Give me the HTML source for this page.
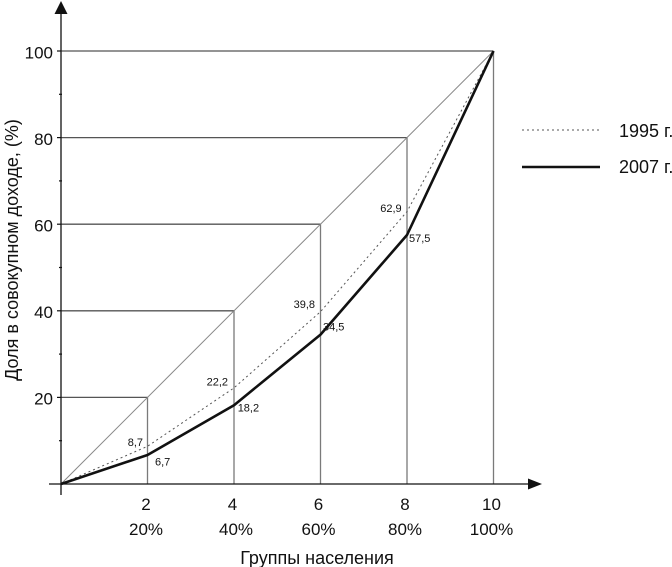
<!DOCTYPE html>
<html><head><meta charset="utf-8"><style>
html,body{margin:0;padding:0;background:#fff;}
svg{display:block;}
text{font-family:"Liberation Sans",Arial,sans-serif;fill:#111;}
</style></head><body>
<svg width="672" height="567" viewBox="0 0 672 567" xmlns="http://www.w3.org/2000/svg">
<g stroke="#555" stroke-width="1.3" fill="none">
<line x1="61" y1="51" x2="493.5" y2="51"/>
<line x1="61" y1="137.6" x2="407" y2="137.6"/>
<line x1="61" y1="224.2" x2="320.5" y2="224.2"/>
<line x1="61" y1="310.8" x2="234" y2="310.8"/>
<line x1="61" y1="397.4" x2="147.5" y2="397.4"/>
</g>
<g stroke="#7a7a7a" stroke-width="1.3" fill="none">
<line x1="147.5" y1="484" x2="147.5" y2="397.4"/>
<line x1="234" y1="484" x2="234" y2="310.8"/>
<line x1="320.5" y1="484" x2="320.5" y2="224.2"/>
<line x1="407" y1="484" x2="407" y2="137.6"/>
<line x1="493.5" y1="484" x2="493.5" y2="51"/>
</g>
<line x1="61" y1="484" x2="493.5" y2="51" stroke="#888" stroke-width="1"/>
<polyline points="61,484 147.5,446.3 234,387.9 320.5,311.7 407,211.6 493.5,51" fill="none" stroke="#555" stroke-width="1" stroke-dasharray="2,3"/>
<polyline points="61,484 147.5,455 234,405.2 320.5,334.6 407,235 493.5,51" fill="none" stroke="#111" stroke-width="2.6" stroke-linejoin="round"/>
<line x1="61" y1="12" x2="61" y2="495" stroke="#111" stroke-width="1.3"/>
<polygon points="61,1 54.5,14 67.5,14" fill="#111"/>
<line x1="49" y1="484" x2="530" y2="484" stroke="#111" stroke-width="1.3"/>
<polygon points="542,484 528,478.5 528,489.5" fill="#111"/>
<g stroke="#111" stroke-width="1.2">
<line x1="57" y1="51" x2="61" y2="51"/>
<line x1="57" y1="137.6" x2="61" y2="137.6"/>
<line x1="57" y1="224.2" x2="61" y2="224.2"/>
<line x1="57" y1="310.8" x2="61" y2="310.8"/>
<line x1="57" y1="397.4" x2="61" y2="397.4"/>
<line x1="59" y1="94.3" x2="62" y2="94.3"/>
<line x1="59" y1="180.9" x2="62" y2="180.9"/>
<line x1="59" y1="267.5" x2="62" y2="267.5"/>
<line x1="59" y1="354.1" x2="62" y2="354.1"/>
<line x1="59" y1="440.7" x2="62" y2="440.7"/>
</g>
<g font-size="17" text-anchor="end">
<text x="53" y="58.5">100</text>
<text x="53" y="145">80</text>
<text x="53" y="231.5">60</text>
<text x="53" y="318">40</text>
<text x="53" y="404.5">20</text>
</g>
<g font-size="17" text-anchor="middle">
<text x="146" y="510">2</text>
<text x="232.5" y="510">4</text>
<text x="318.5" y="510">6</text>
<text x="405" y="510">8</text>
<text x="491.5" y="510">10</text>
<text x="146" y="535">20%</text>
<text x="236" y="535">40%</text>
<text x="318.5" y="535">60%</text>
<text x="405" y="535">80%</text>
<text x="491.5" y="535">100%</text>
</g>
<text x="317" y="564" font-size="18" text-anchor="middle">Группы населения</text>
<text transform="translate(18,250) rotate(-90)" font-size="18" text-anchor="middle">Доля в совокупном доходе, (%)</text>
<g font-size="11">
<text x="143" y="446" text-anchor="end">8,7</text>
<text x="155" y="465.5">6,7</text>
<text x="228" y="385.5" text-anchor="end">22,2</text>
<text x="237.7" y="411.5">18,2</text>
<text x="315" y="308" text-anchor="end">39,8</text>
<text x="323" y="330.5">34,5</text>
<text x="401.7" y="212" text-anchor="end">62,9</text>
<text x="409" y="242">57,5</text>
</g>
<line x1="522" y1="130" x2="600" y2="130" stroke="#555" stroke-width="1" stroke-dasharray="2,3"/>
<line x1="522" y1="167" x2="600" y2="167" stroke="#111" stroke-width="2.6"/>
<text x="619" y="137" font-size="18">1995 г.</text>
<text x="619" y="173" font-size="18">2007 г.</text>
</svg>
</body></html>
